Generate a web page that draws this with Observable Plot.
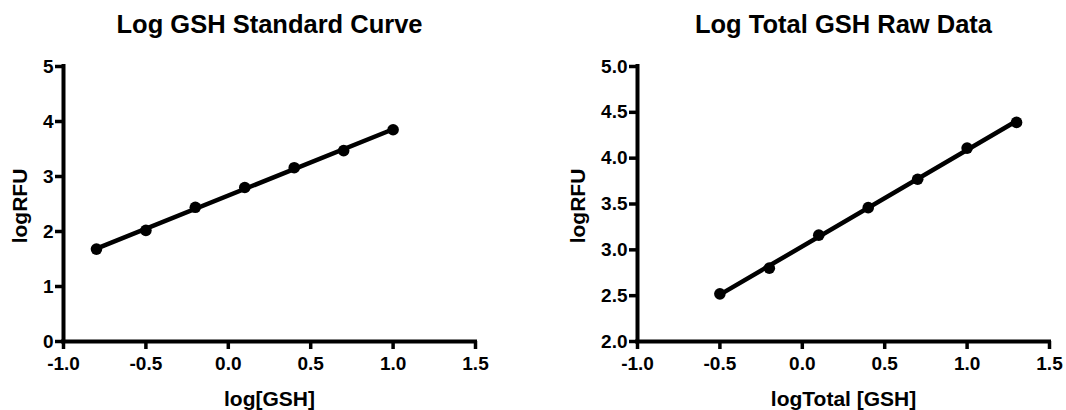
<!DOCTYPE html>
<html>
<head>
<meta charset="utf-8">
<script src="https://cdn.jsdelivr.net/npm/d3@7"></script>
<script src="https://cdn.jsdelivr.net/npm/@observablehq/plot@0.6"></script>
<style>
  html, body { margin: 0; padding: 0; background: #fff; }
  #row { display: flex; width: 1066px; height: 410px; overflow: hidden; }
  svg { overflow: visible; }
</style>
</head>
<body>
<div id="row"></div>
<script>
// ---- Data ----
const stdTitle = "Log GSH Standard Curve";
const stdXLabel = "log[GSH]";
const stdYLabel = "logRFU";
const stdX = [-0.8, -0.5, -0.2, 0.1, 0.4, 0.7, 1.0];
const stdY = [1.68, 2.02, 2.44, 2.80, 3.16, 3.47, 3.85];
const stdXTicks = [-1.0, -0.5, 0.0, 0.5, 1.0, 1.5];
const stdYTicks = [0, 1, 2, 3, 4, 5];

const rawTitle = "Log Total GSH Raw Data";
const rawXLabel = "logTotal [GSH]";
const rawYLabel = "logRFU";
const rawX = [-0.5, -0.2, 0.1, 0.4, 0.7, 1.0, 1.3];
const rawY = [2.52, 2.80, 3.16, 3.46, 3.77, 4.11, 4.39];
const rawXTicks = [-1.0, -0.5, 0.0, 0.5, 1.0, 1.5];
const rawYTicks = [2.0, 2.5, 3.0, 3.5, 4.0, 4.5, 5.0];

const FONT = "'Liberation Sans', Arial, Helvetica, sans-serif";

function panel({title, xLabel, yLabel, xs, ys, xTicks, yTicks, yFormat, marginLeft, marginRight, yLabelDx}) {
  const data = xs.map((x, i) => ({x, y: ys[i]}));
  const xDomain = [d3.min(xTicks), d3.max(xTicks)];
  const yDomain = [d3.min(yTicks), d3.max(yTicks)];
  return Plot.plot({
    width: 533,
    height: 410,
    marginLeft,
    marginRight,
    marginTop: 66,
    marginBottom: 69,
    style: {fontFamily: FONT, color: "#000", background: "#fff", overflow: "visible", fontWeight: "bold"},
    x: {domain: xDomain, axis: null},
    y: {domain: yDomain, axis: null},
    marks: [
      Plot.axisX(xTicks, {
        tickSize: 8, strokeWidth: 3.5, tickPadding: 7,
        fontSize: 19, fontWeight: "bold",
        tickFormat: d => d.toFixed(1), label: null
      }),
      Plot.axisY(yTicks, {
        tickSize: 8, strokeWidth: 3.5, tickPadding: 2,
        fontSize: 19, fontWeight: "bold",
        tickFormat: yFormat, label: null
      }),
      Plot.ruleY([yDomain[0]], {strokeWidth: 4, stroke: "#000", strokeLinecap: "square"}),
      Plot.ruleX([xDomain[0]], {strokeWidth: 4, stroke: "#000", strokeLinecap: "square"}),
      Plot.linearRegressionY(data, {x: "x", y: "y", ci: 0, stroke: "#000", strokeWidth: 4.5}),
      Plot.dot(data, {x: "x", y: "y", r: 5.8, fill: "#000", stroke: "none"}),
      Plot.text([title], {frameAnchor: "top", dy: -42, lineAnchor: "middle",
        fontSize: 25.5, fontWeight: "bold", fill: "#000"}),
      Plot.text([xLabel], {frameAnchor: "bottom", dy: 58, lineAnchor: "middle",
        fontSize: 21, fontWeight: "bold", fill: "#000"}),
      Plot.text([yLabel], {frameAnchor: "left", textAnchor: "middle", dx: yLabelDx, dy: 2,
        rotate: -90, lineAnchor: "middle",
        fontSize: 21, fontWeight: "bold", fill: "#000"})
    ]
  });
}

const row = document.getElementById("row");
row.append(panel({
  title: stdTitle, xLabel: stdXLabel, yLabel: stdYLabel,
  xs: stdX, ys: stdY, xTicks: stdXTicks, yTicks: stdYTicks,
  yFormat: d => String(d), marginLeft: 63, marginRight: 58, yLabelDx: -43
}));
row.append(panel({
  title: rawTitle, xLabel: rawXLabel, yLabel: rawYLabel,
  xs: rawX, ys: rawY, xTicks: rawXTicks, yTicks: rawYTicks,
  yFormat: d => d.toFixed(1), marginLeft: 104, marginRight: 17, yLabelDx: -59
}));
</script>
</body>
</html>
